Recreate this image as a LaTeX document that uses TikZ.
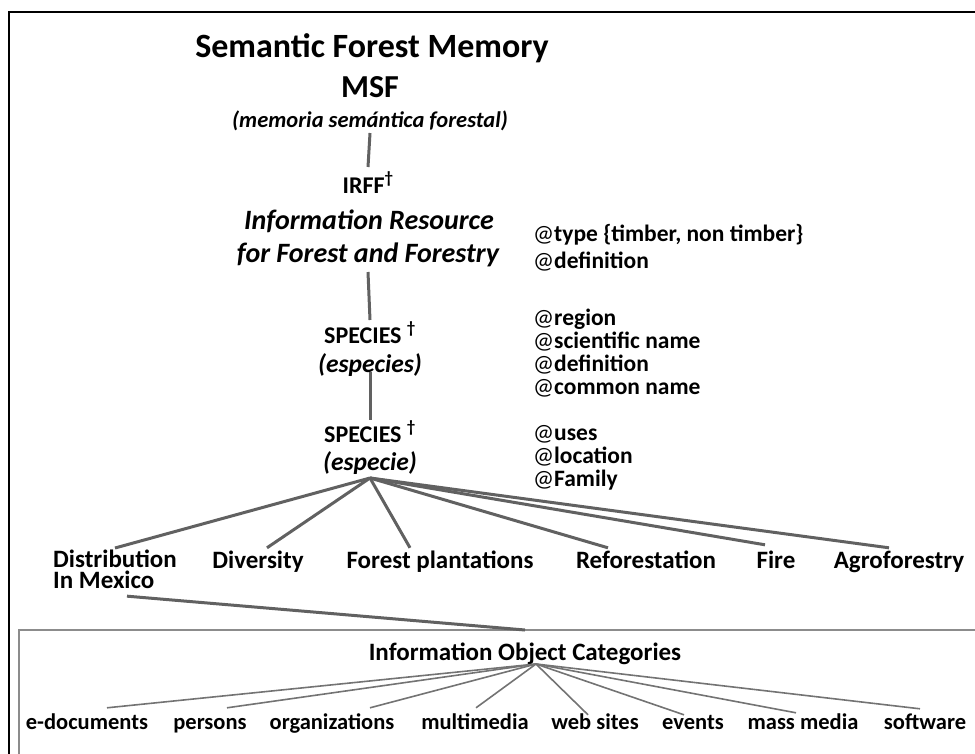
\documentclass[tikz,border=0pt]{standalone}
\usepackage{fontspec}
\setmainfont{Carlito}
\newcommand{\sz}[1]{\fontsize{#1}{#1}\selectfont}

\begin{document}
\begin{tikzpicture}[x=1pt,y=-1pt,
  txt/.style={anchor=base, inner sep=0pt},
  attr/.style={anchor=base west, inner sep=0pt, font=\sz{23.5}\bfseries},
  topic/.style={anchor=base, inner sep=0pt, text height=18pt, font=\sz{25}\bfseries},
  cat/.style={anchor=base, inner sep=0pt, text height=16pt, font=\sz{22.5}\bfseries},
  stem/.style={line width=3pt, black!62},
  twig/.style={line width=1.6pt, black!55}]
\useasboundingbox (0,0) rectangle (975,753);
\draw[line width=2.5pt] (9,12) rectangle (1000,790);
\draw[line width=1.5pt, black!45] (19,630) coordinate (boxnw) rectangle (995,780);
%
\node[txt, font=\sz{34}\bfseries] (title) at (372,57) {Semantic Forest Memory};
\node[txt, font=\sz{32}\bfseries] (msf) at (370,97) {MSF};
\node[txt, font=\sz{22.5}\bfseries\itshape] (memo) at (370,127) {(memoria semántica forestal)};
\node[txt, font=\sz{24}\bfseries] (irff) at (368,193) {IRFF\textsuperscript{\textdagger}};
\node[txt, font=\sz{28}\bfseries\itshape] (irr) at (369,229) {Information Resource};
\node[txt, font=\sz{28}\bfseries\itshape] (irf) at (368,262) {for Forest and Forestry};
\node[txt, font=\sz{24}\bfseries] (sp1) at (370,343) {SPECIES \textsuperscript{\textdagger}};
\node[txt, font=\sz{25.5}\bfseries\itshape] (es1) at (370,372) {(especies)};
\node[txt, font=\sz{24}\bfseries] (sp2) at (370,442) {SPECIES \textsuperscript{\textdagger}};
\node[txt, font=\sz{25.5}\bfseries\itshape] (es2) at (370,470) {(especie)};
\coordinate (hub) at (370,478);
%
\draw[stem] (memo.south |- 0,133) -- (irff.north |- 0,167);
\draw[stem] (irf.south |- 0,272) -- (sp1.north |- 0,320);
\draw[stem] (es1.south |- 0,372) -- (sp2.north |- 0,420);
%
\foreach \t/\y in {{type \{timber, non timber\}}/241, definition/268,
    region/325, {scientific name}/348, definition/371, {common name}/394,
    uses/440, location/463, Family/486}
  \node[attr] (attr-\y) at (533,\y) {{\mdseries @}\t};
%
\node[anchor=north west, inner sep=0pt, align=left, font=\fontsize{25}{21}\selectfont\bfseries]
  (dist) at (53,550) {Distribution\\In Mexico};
\node[topic] (div) at (258,568) {Diversity};
\node[topic] (fp) at (440,568) {Forest plantations};
\node[topic] (ref) at (646,568) {Reforestation};
\node[topic] (fire) at (776,568) {Fire};
\node[topic] (agro) at (899,568) {Agroforestry};
\draw[stem] (hub) -- ([yshift=2pt]dist.north);
\foreach \n/\dx/\dy in {div/9/2, fp/-30/2, ref/-38/2, fire/-11/5, agro/-10/2}
  \draw[stem] (hub) -- ([xshift=\dx, yshift=\dy]\n.north);
%
\node[txt, font=\sz{25}\bfseries] (ioc) at (525,660) {Information Object Categories};
\coordinate (cathub) at (536,664);
\draw[stem] ([xshift=12pt, yshift=-7pt]dist.south) -- (ioc.north |- boxnw);
\foreach \n/\x/\t in {edoc/87/e-documents, pers/210/persons, org/332/organizations,
    mm/475/multimedia, web/595/web sites, ev/693/events, mass/803/mass media, soft/925/software}
  \node[cat] (\n) at (\x,729) {\t};
\foreach \n/\dx/\dy in {edoc/20/5, pers/17/5, org/38/5, mm/1/5, web/-7/-2, ev/-9/-2, mass/-7/0, soft/-5/4}
  \draw[twig] (cathub) -- ([xshift=\dx, yshift=\dy]\n.north);
\end{tikzpicture}
\end{document}
